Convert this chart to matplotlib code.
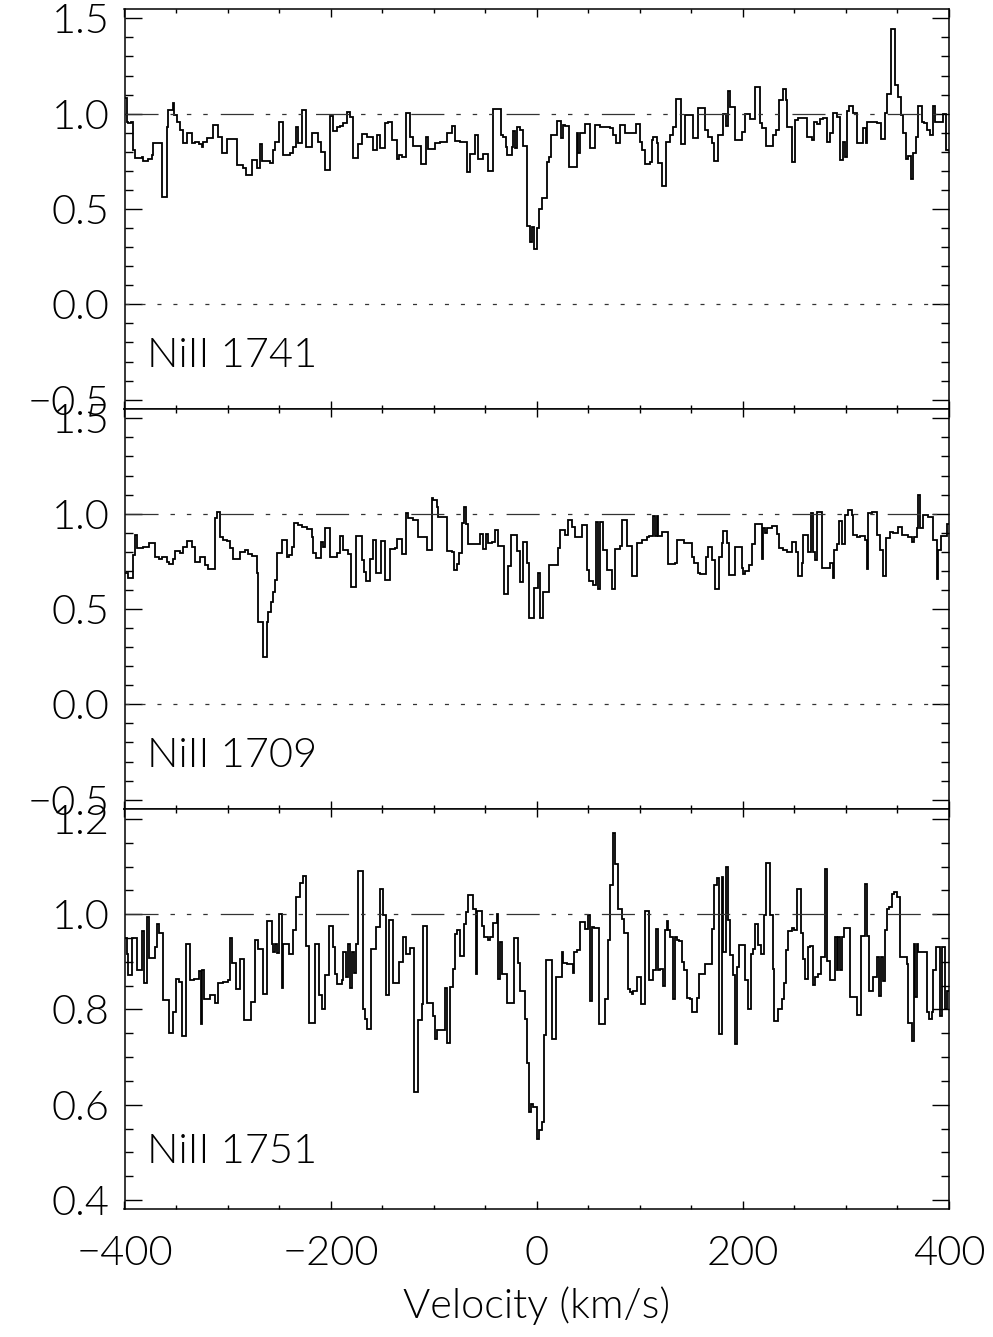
import matplotlib
matplotlib.use("Agg")
import matplotlib.pyplot as plt
from matplotlib.ticker import MultipleLocator, FuncFormatter

plt.rcParams['font.family'] = ['Lato', 'DejaVu Sans']
plt.rcParams['font.weight'] = 300
plt.rcParams['axes.labelweight'] = 300
plt.rcParams['lines.scale_dashes'] = False

# ---------------- data (velocity bin edges in km/s, normalized flux) ----------------
ni1741_edges = [-399.5, -397.9, -396.3, -394.0, -391.4, -389.8, -383.3, -381.7, -376.9, -373.6,
                -372.0, -363.3, -359.1, -357.5, -353.3, -352.0, -349.4, -346.2, -343.6, -339.1,
                -334.8, -331.6, -327.4, -325.1, -323.5, -320.3, -313.8, -309.0, -305.7, -300.9,
                -290.5, -284.7, -282.1, -276.6, -271.8, -268.5, -266.3, -258.8, -255.6, -254.0,
                -249.8, -246.5, -239.4, -236.2, -233.6, -231.4, -228.1, -223.9, -218.4, -216.8,
                -212.0, -209.7, -205.5, -200.6, -197.4, -194.2, -190.9, -187.7, -184.5, -181.2,
                -178.6, -173.1, -169.9, -165.0, -158.6, -155.3, -152.1, -147.3, -144.1, -140.8,
                -136.0, -133.4, -131.1, -126.9, -123.0, -119.8, -112.7, -107.5, -105.3, -98.8,
                -94.0, -87.5, -82.6, -79.4, -74.6, -68.1, -64.9, -60.0, -56.8, -52.0,
                -47.1, -42.2, -35.1, -32.5, -29.9, -28.6, -24.4, -22.8, -21.1, -19.5,
                -16.3, -13.1, -9.2, -6.6, -4.3, -2.4, -0.1, 2.5, 4.7, 9.6,
                11.5, 13.5, 19.3, 23.2, 25.7, 27.4, 31.6, 38.7, 40.3, 41.9,
                46.8, 51.6, 56.5, 61.3, 71.0, 73.6, 76.8, 80.7, 85.6, 96.3,
                100.1, 101.7, 105.0, 109.8, 111.4, 113.1, 116.3, 117.9, 121.1, 125.4,
                129.2, 131.8, 135.1, 139.6, 143.8, 151.2, 156.7, 163.2, 166.4, 169.7,
                171.9, 176.1, 181.0, 183.6, 185.8, 187.4, 192.3, 198.8, 202.0, 206.9,
                211.7, 216.6, 218.2, 222.4, 228.9, 232.1, 235.3, 238.5, 241.8, 243.1,
                247.3, 250.5, 253.7, 261.8, 266.7, 268.9, 271.5, 274.8, 277.3, 281.2,
                284.5, 287.7, 290.9, 294.2, 296.8, 299.4, 301.3, 303.2, 307.1, 311.0,
                316.8, 319.1, 320.7, 329.7, 333.6, 337.8, 340.1, 343.3, 347.5, 350.8,
                353.0, 355.6, 358.2, 360.5, 362.7, 364.7, 367.9, 370.2, 373.4, 375.7,
                378.3, 381.5, 384.7, 386.7, 393.8, 397.0, 400.0]
ni1741_flux = [1.080, 0.958, 0.949, 0.958, 0.809, 0.766, 0.771, 0.753, 0.760, 0.783,
               0.844, 0.565, 0.932, 1.019, 1.054, 0.993, 0.958, 0.914, 0.848, 0.897,
               0.848, 0.853, 0.841, 0.827, 0.853, 0.874, 0.941, 0.879, 0.792, 0.865,
               0.731, 0.713, 0.678, 0.757, 0.713, 0.841, 0.753, 0.740, 0.809, 0.853,
               0.955, 0.783, 0.792, 0.827, 0.932, 0.844, 1.019, 0.827, 0.897, 0.900,
               0.853, 0.801, 0.705, 0.988, 0.911, 0.928, 0.935, 0.953, 1.007, 0.984,
               0.766, 0.841, 0.893, 0.879, 0.809, 0.888, 0.818, 0.949, 0.958, 0.862,
               0.760, 0.783, 0.774, 1.002, 0.879, 0.830, 0.736, 0.879, 0.813, 0.844,
               0.853, 0.897, 0.937, 0.857, 0.853, 0.696, 0.787, 0.888, 0.760, 0.789,
               0.699, 1.023, 0.888, 0.879, 0.827, 0.783, 0.827, 0.911, 0.818, 0.932,
               0.914, 0.832, 0.411, 0.329, 0.407, 0.288, 0.399, 0.498, 0.559, 0.745,
               0.774, 0.888, 0.963, 0.871, 0.941, 0.935, 0.722, 0.900, 0.795, 0.900,
               0.946, 0.818, 0.941, 0.928, 0.923, 0.888, 0.848, 0.942, 0.897, 0.946,
               0.853, 0.809, 0.736, 0.748, 0.862, 0.876, 0.844, 0.740, 0.621, 0.853,
               0.888, 0.932, 1.075, 0.841, 0.993, 0.871, 1.031, 0.914, 0.876, 0.844,
               0.753, 0.888, 0.998, 0.935, 1.119, 1.037, 0.862, 0.906, 0.998, 0.972,
               1.142, 0.949, 0.927, 0.832, 0.888, 0.914, 1.072, 1.128, 1.072, 0.932,
               0.748, 0.967, 0.976, 0.879, 0.862, 0.958, 0.946, 0.970, 0.976, 0.853,
               0.897, 1.002, 0.984, 0.757, 0.853, 0.774, 1.014, 1.040, 1.002, 0.848,
               0.923, 0.844, 0.958, 0.949, 0.865, 1.002, 1.101, 1.442, 1.150, 1.086,
               0.993, 0.900, 0.760, 0.778, 0.657, 0.792, 0.879, 1.040, 0.958, 0.953,
               0.914, 0.888, 1.040, 0.958, 0.998, 0.809]

ni1709_edges = [-399.5, -396.3, -392.1, -389.8, -388.2, -381.7, -375.9, -370.4, -366.2, -363.9,
                -362.3, -359.1, -356.5, -353.3, -351.0, -346.2, -342.9, -339.7, -334.8, -331.6,
                -326.8, -321.9, -318.7, -312.2, -310.6, -307.4, -304.1, -300.9, -297.7, -294.4,
                -288.0, -283.1, -279.9, -276.6, -271.8, -270.2, -266.0, -262.1, -260.4, -258.2,
                -256.3, -254.0, -252.4, -247.5, -242.7, -240.4, -237.2, -235.6, -231.4, -228.1,
                -223.3, -218.4, -216.8, -214.2, -209.7, -207.1, -205.5, -200.6, -194.2, -190.9,
                -187.7, -182.8, -180.6, -175.4, -169.9, -167.6, -165.7, -161.8, -159.2, -156.0,
                -151.5, -147.3, -142.4, -137.6, -135.3, -131.1, -126.9, -124.6, -119.8, -114.9,
                -110.1, -106.2, -102.0, -100.4, -97.2, -95.5, -87.4, -82.6, -80.3, -77.7,
                -75.2, -72.9, -70.6, -68.7, -66.4, -55.1, -51.9, -49.3, -47.0, -43.8,
                -40.6, -37.3, -31.8, -27.6, -25.3, -19.5, -16.3, -13.1, -9.8, -7.2,
                -2.7, 1.5, 3.1, 5.7, 12.2, 20.9, 22.5, 27.4, 30.6, 33.8,
                37.1, 43.5, 49.0, 51.0, 54.9, 57.4, 59.7, 61.3, 63.9, 67.8,
                72.6, 75.9, 80.7, 82.3, 87.8, 92.0, 96.9, 101.7, 106.6, 109.2,
                113.1, 114.7, 116.3, 117.9, 121.1, 127.6, 134.1, 136.4, 142.8, 150.3,
                152.5, 156.7, 158.3, 164.2, 166.4, 169.7, 172.9, 177.1, 179.4, 181.0,
                184.2, 186.8, 192.3, 198.8, 200.4, 202.0, 206.2, 208.5, 211.7, 218.2,
                219.8, 221.4, 223.7, 227.9, 232.7, 235.3, 238.5, 243.1, 247.3, 251.5,
                253.7, 257.0, 258.6, 263.4, 265.7, 267.6, 269.9, 271.5, 276.4, 284.5,
                287.1, 288.3, 290.9, 293.5, 295.8, 299.0, 302.3, 305.5, 307.1, 310.3,
                313.6, 318.4, 320.0, 321.7, 324.9, 329.7, 333.0, 336.2, 338.8, 342.7,
                345.9, 350.8, 354.0, 360.5, 363.7, 366.0, 368.6, 370.2, 371.8, 374.4,
                379.9, 384.7, 387.9, 389.6, 391.8, 398.3, 400.0]
ni1709_flux = [0.687, 0.661, 0.783, 0.888, 0.818, 0.823, 0.848, 0.774, 0.760, 0.771,
               0.774, 0.748, 0.736, 0.760, 0.806, 0.795, 0.827, 0.858, 0.827, 0.748,
               0.774, 0.731, 0.708, 0.976, 1.010, 0.879, 0.862, 0.858, 0.818, 0.760,
               0.801, 0.809, 0.788, 0.778, 0.687, 0.434, 0.250, 0.434, 0.486, 0.538,
               0.591, 0.652, 0.795, 0.862, 0.774, 0.783, 0.827, 0.949, 0.941, 0.928,
               0.918, 0.879, 0.792, 0.766, 0.853, 0.827, 0.923, 0.774, 0.792, 0.883,
               0.809, 0.788, 0.617, 0.883, 0.757, 0.696, 0.649, 0.760, 0.862, 0.687,
               0.858, 0.652, 0.813, 0.818, 0.865, 0.788, 1.002, 0.976, 0.967, 0.879,
               0.876, 0.809, 1.080, 1.072, 1.033, 0.984, 0.806, 0.801, 0.705, 0.736,
               0.792, 0.949, 1.033, 0.946, 0.841, 0.892, 0.813, 0.892, 0.844, 0.853,
               0.914, 0.832, 0.577, 0.726, 0.888, 0.806, 0.643, 0.853, 0.740, 0.451,
               0.608, 0.687, 0.451, 0.591, 0.731, 0.818, 0.914, 0.888, 0.967, 0.932,
               0.879, 0.941, 0.705, 0.648, 0.627, 0.958, 0.603, 0.958, 0.809, 0.705,
               0.603, 0.813, 0.830, 0.967, 0.830, 0.673, 0.844, 0.862, 0.876, 0.883,
               0.986, 0.883, 0.986, 0.883, 0.906, 0.736, 0.740, 0.862, 0.844, 0.774,
               0.740, 0.687, 0.683, 0.774, 0.823, 0.757, 0.603, 0.774, 0.848, 0.911,
               0.844, 0.678, 0.823, 0.713, 0.683, 0.701, 0.731, 0.841, 0.946, 0.760,
               0.923, 0.897, 0.923, 0.935, 0.893, 0.818, 0.809, 0.801, 0.853, 0.801,
               0.673, 0.740, 0.888, 0.801, 1.002, 0.801, 0.757, 1.010, 0.713, 0.740,
               0.661, 0.809, 0.841, 0.963, 0.841, 0.993, 1.019, 0.993, 0.888, 0.879,
               0.883, 0.862, 0.709, 1.002, 1.010, 0.888, 0.809, 0.673, 0.871, 0.906,
               0.900, 0.932, 0.888, 0.879, 0.853, 0.879, 0.923, 1.098, 0.923, 0.993,
               0.984, 0.862, 0.655, 0.809, 0.883, 0.946]

ni1751_edges = [-399.5, -397.9, -396.3, -392.4, -388.2, -382.7, -380.8, -378.5, -376.2, -370.4,
                -368.2, -366.2, -362.3, -356.5, -352.6, -350.0, -346.8, -344.5, -340.7, -336.4,
                -332.6, -327.4, -325.8, -324.5, -322.6, -317.1, -312.2, -309.0, -304.1, -299.3,
                -297.7, -296.0, -291.8, -288.0, -284.1, -277.6, -273.4, -270.2, -266.0, -262.1,
                -257.2, -255.6, -254.0, -252.4, -249.8, -247.5, -245.9, -240.1, -236.2, -233.6,
                -229.7, -227.2, -223.9, -220.7, -215.2, -211.0, -208.7, -205.5, -201.3, -198.1,
                -195.8, -193.5, -189.3, -187.7, -185.1, -182.8, -181.2, -179.6, -177.4, -175.4,
                -173.1, -168.9, -166.7, -165.1, -161.2, -156.0, -152.1, -149.5, -146.3, -143.1,
                -139.2, -133.4, -129.5, -126.9, -123.0, -119.2, -115.1, -111.7, -110.1, -106.2,
                -101.0, -98.8, -96.5, -89.1, -87.4, -84.2, -81.6, -79.4, -77.7, -74.5,
                -70.6, -68.7, -66.4, -61.6, -59.0, -57.7, -53.5, -51.2, -47.0, -45.4,
                -42.2, -38.9, -37.3, -35.7, -34.1, -28.6, -22.1, -17.9, -16.3, -11.4,
                -9.2, -7.2, -5.9, -4.0, -0.1, 2.5, 4.7, 7.0, 8.9, 14.4,
                18.6, 24.1, 25.7, 29.6, 34.8, 36.1, 38.7, 41.9, 46.8, 50.0,
                51.6, 53.2, 55.5, 60.7, 66.2, 69.4, 71.0, 73.6, 75.9, 79.1,
                82.3, 84.6, 88.8, 90.4, 92.0, 93.7, 96.9, 100.8, 105.0, 109.2,
                113.1, 115.7, 117.9, 119.5, 122.1, 124.4, 126.0, 127.6, 129.2, 131.8,
                134.1, 135.7, 138.3, 140.6, 142.8, 145.4, 148.6, 150.3, 155.1, 157.7,
                163.2, 169.7, 171.9, 175.2, 177.1, 179.4, 181.0, 183.6, 185.8, 187.4,
                190.0, 192.3, 194.6, 196.5, 202.0, 205.2, 207.5, 210.1, 211.7, 214.9,
                217.2, 220.4, 222.4, 226.3, 228.9, 230.1, 234.3, 237.6, 239.8, 241.8,
                244.0, 247.3, 249.5, 252.1, 256.0, 257.9, 260.2, 263.4, 265.1, 267.6,
                269.9, 273.1, 275.4, 279.6, 281.9, 284.5, 289.3, 290.9, 292.5, 294.2,
                295.8, 298.1, 303.9, 310.3, 314.2, 318.4, 320.7, 322.6, 325.9, 330.4,
                332.3, 333.6, 335.6, 337.8, 339.4, 342.0, 344.3, 346.6, 349.1, 352.4,
                358.8, 360.5, 363.7, 366.0, 366.9, 368.6, 370.2, 378.3, 380.9, 383.1,
                384.7, 387.3, 391.2, 392.8, 396.0, 398.3, 400.0]
ni1751_flux = [0.951, 0.916, 0.872, 0.951, 0.883, 0.965, 0.856, 0.994, 0.908, 0.932,
               0.980, 0.961, 0.820, 0.751, 0.795, 0.865, 0.858, 0.744, 0.937, 0.862,
               0.865, 0.881, 0.770, 0.883, 0.821, 0.830, 0.813, 0.855, 0.858, 0.862,
               0.951, 0.897, 0.842, 0.907, 0.778, 0.816, 0.945, 0.927, 0.833, 0.986,
               0.937, 0.920, 0.937, 0.918, 1.000, 0.846, 0.937, 0.916, 0.966, 1.036,
               1.066, 1.080, 0.934, 0.772, 0.937, 0.830, 0.802, 0.872, 0.975, 0.932,
               0.874, 0.853, 0.862, 0.921, 0.869, 0.937, 0.846, 0.921, 0.876, 0.937,
               1.091, 0.800, 0.779, 0.758, 0.926, 0.973, 1.054, 0.998, 0.830, 0.987,
               0.856, 0.900, 0.953, 0.917, 0.930, 0.627, 0.778, 0.811, 0.975, 0.813,
               0.786, 0.739, 0.756, 0.846, 0.730, 0.847, 0.886, 0.959, 0.966, 0.913,
               0.980, 1.005, 1.040, 1.012, 0.875, 1.007, 0.975, 0.952, 0.945, 0.952,
               0.982, 1.000, 0.865, 0.941, 0.874, 0.814, 0.951, 0.898, 0.839, 0.781,
               0.688, 0.585, 0.601, 0.596, 0.527, 0.547, 0.564, 0.746, 0.903, 0.739,
               0.869, 0.921, 0.898, 0.895, 0.876, 0.921, 0.924, 0.983, 0.969, 0.998,
               0.818, 0.973, 0.972, 0.769, 0.821, 0.945, 1.061, 1.171, 1.105, 1.012,
               0.991, 0.960, 0.844, 0.837, 0.832, 0.839, 0.868, 0.811, 1.007, 0.861,
               0.882, 0.969, 0.882, 0.886, 0.849, 0.966, 0.986, 0.966, 0.952, 0.823,
               0.952, 0.945, 0.944, 0.900, 0.883, 0.825, 0.821, 0.795, 0.825, 0.874,
               0.895, 0.969, 1.061, 1.077, 0.749, 1.078, 0.921, 1.099, 0.987, 0.914,
               0.872, 0.728, 0.889, 0.935, 0.862, 0.802, 0.917, 0.928, 0.979, 0.935,
               0.916, 0.998, 1.108, 0.998, 0.886, 0.776, 0.802, 0.823, 0.856, 0.924,
               0.965, 0.972, 0.966, 1.052, 0.960, 0.905, 0.863, 0.932, 0.933, 0.851,
               0.869, 0.874, 0.910, 1.096, 0.902, 0.862, 0.952, 0.882, 0.952, 0.882,
               0.952, 0.972, 0.826, 0.788, 0.954, 1.063, 0.954, 0.839, 0.869, 0.910,
               0.828, 0.910, 0.860, 0.966, 1.012, 1.015, 1.043, 1.047, 1.036, 0.910,
               0.896, 0.771, 0.734, 0.938, 0.826, 0.938, 0.921, 0.795, 0.781, 0.795,
               0.883, 0.932, 0.786, 0.932, 0.800, 0.838]

panel_labels = ["NiII 1741", "NiII 1709", "NiII 1751"]
x_ticks = [-400, -200, 0, 200, 400]

# ---------------- figure ----------------
fig = plt.figure(figsize=(9.93, 13.37), dpi=100)
left, width = 124.5 / 993, (949 - 124.5) / 993
tops = [9, 409, 809]
h_px = 400

series = [(ni1741_edges, ni1741_flux), (ni1709_edges, ni1709_flux), (ni1751_edges, ni1751_flux)]
ylims = [(-0.549, 1.549), (-0.549, 1.549), (0.381, 1.221)]
ymaj = [0.5, 0.5, 0.2]
ymin = [0.1, 0.1, 0.05]
label_y = [-0.33, -0.33, 0.477]

dashdot3 = (0, (23.8, 8.6, 3.2, 8.6, 3.2, 8.6, 3.2, 9.4))
dotted = (0, (2.9, 8.6))
FS = 30

fmt = FuncFormatter(lambda v, p: f"{v:.1f}".replace('-', '\u2212') if abs(v) > 1e-9 else "0.0")

for i, ((edges, flux), top) in enumerate(zip(series, tops)):
    bottom = 1 - (top + h_px) / 1337
    ax = fig.add_axes([left, bottom, width, h_px / 1337])
    ax.stairs(flux, edges, color='black', linewidth=1.3, baseline=None)
    ax.axhline(1.0, color='#333333', linewidth=0.9, linestyle=dashdot3)
    if ylims[i][0] < 0:
        ax.axhline(0.0, color='#333333', linewidth=0.9, linestyle=dotted)
    ax.set_xlim(-400, 400)
    ax.set_ylim(*ylims[i])
    ax.xaxis.set_major_locator(MultipleLocator(200))
    ax.xaxis.set_minor_locator(MultipleLocator(50))
    ax.yaxis.set_major_locator(MultipleLocator(ymaj[i]))
    ax.yaxis.set_minor_locator(MultipleLocator(ymin[i]))
    ax.yaxis.set_major_formatter(fmt)
    ax.tick_params(which='both', direction='in', top=True, right=True, width=1.0,
                   labelcolor='black')
    ax.yaxis.set_tick_params(which='major', length=12, pad=11, labelsize=FS)
    ax.yaxis.set_tick_params(which='minor', length=6)
    ax.xaxis.set_tick_params(which='major', length=5.5, pad=19, labelsize=FS)
    ax.xaxis.set_tick_params(which='minor', length=3)
    for sp in ax.spines.values():
        sp.set_linewidth(1.1)
    if i < 2:
        ax.tick_params(axis='x', labelbottom=False)
    else:
        ax.set_xticks(x_ticks)
        ax.set_xlabel("Velocity (km/s)", fontsize=FS, fontweight=300, labelpad=10)
    ax.text(-378, label_y[i], panel_labels[i], fontsize=FS, fontweight=300,
            va='baseline', ha='left', color='black')

fig.savefig("out.png", dpi=100, facecolor='white')
